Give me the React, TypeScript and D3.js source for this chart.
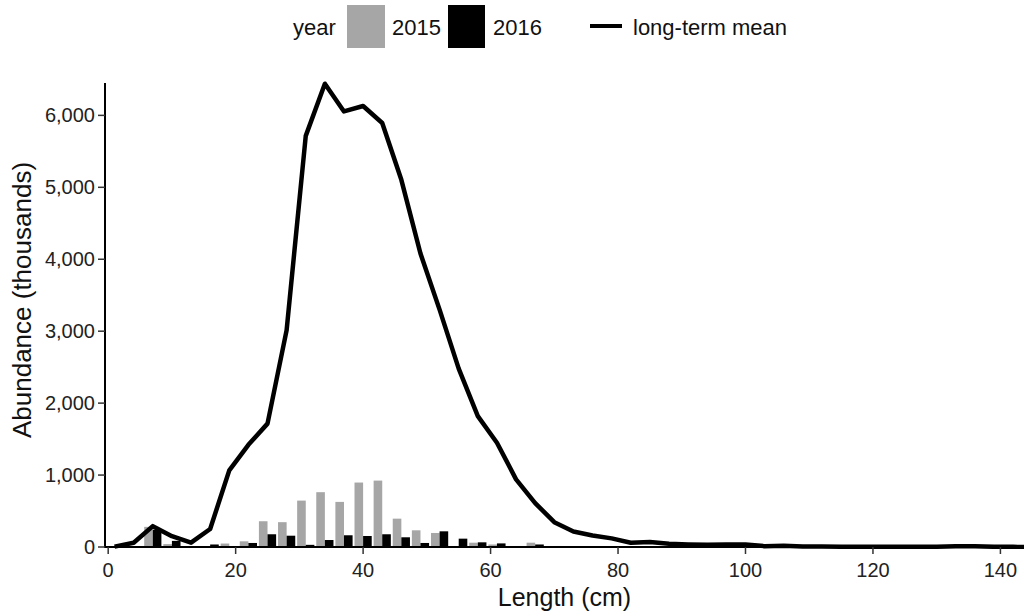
import * as d3 from "d3";

// bin centres (cm), 3 cm bins
const lengths = [1, 4, 7, 10, 13, 16, 19, 22, 25, 28, 31, 34, 37, 40, 43, 46, 49, 52, 55, 58, 61, 64, 67, 70];
const abund2015 = [0, 5, 280, 40, 0, 0, 48, 79, 358, 345, 645, 762, 627, 896, 923, 394, 232, 195, 5, 60, 35, 5, 60, 5];
const abund2016 = [0, 0, 240, 85, 0, 35, 10, 56, 177, 157, 30, 97, 163, 153, 177, 135, 56, 218, 116, 65, 50, 14, 35, 14];

const meanLengths = [
  1, 4, 7, 10, 13, 16, 19, 22, 25, 28, 31, 34, 37, 40, 43, 46, 49, 52, 55, 58, 61, 64, 67, 70,
  73, 76, 79, 82, 85, 88, 91, 94, 97, 100, 103, 106, 109, 112, 115, 118, 121, 124, 127, 130,
  133, 136, 139, 142, 145,
];
const meanAbund = [
  5, 60, 290, 150, 60, 250, 1065, 1420, 1715, 3015, 5715, 6440, 6055, 6130, 5894, 5104, 4080, 3300, 2480, 1820, 1450, 940, 610, 345,
  215, 160, 120, 60, 70, 45, 35, 30, 35, 35, 12, 18, 8, 6, 4, 4, 3, 3, 2, 4,
  12, 12, 3, 2, 0,
];

const xTicks = [0, 20, 40, 60, 80, 100, 120, 140];
const yTicks = [0, 1000, 2000, 3000, 4000, 5000, 6000];

const width = 1024;
const height = 616;
const left = 105;
const right = 1024;
const top = 83;
const bottom = 547;
const font = "'Liberation Sans', Arial, sans-serif";
const grey = "#a6a6a6";

export default function App() {
  const x = d3.scaleLinear().domain([-0.5, 143.7]).range([left, right]);
  const y = d3.scaleLinear().domain([0, 6450]).range([bottom, top]);
  const barW = 1.35; // half of 0.9 * bin width

  const line = d3
    .line<number>()
    .x((_, i) => x(meanLengths[i]))
    .y((d) => y(d));

  const fmt = d3.format(",");

  return (
    <svg
      width={width}
      height={height}
      style={{ position: "absolute", left: 0, top: 0, background: "#fff" }}
      fontFamily={font}
    >
      <defs>
        <clipPath id="panel">
          <rect x={left} y={0} width={right - left} height={bottom + 2} />
        </clipPath>
      </defs>

      {/* legend */}
      <g fontSize={22} fill="#111">
        <text x={293} y={35}>year</text>
        <rect x={347} y={5} width={38} height={43} fill={grey} />
        <text x={392} y={35}>2015</text>
        <rect x={448} y={5} width={37} height={43} fill="#000" />
        <text x={493} y={35}>2016</text>
        <line x1={590} x2={622} y1={26} y2={26} stroke="#000" strokeWidth={4} />
        <text x={633} y={35}>long-term mean</text>
      </g>

      {/* bars */}
      <g>
        {lengths.map((l, i) => (
          <g key={l}>
            <rect
              x={x(l - barW)}
              y={y(abund2015[i])}
              width={x(l) - x(l - barW)}
              height={bottom - y(abund2015[i])}
              fill={grey}
            />
            <rect
              x={x(l)}
              y={y(abund2016[i])}
              width={x(l + barW) - x(l)}
              height={bottom - y(abund2016[i])}
              fill="#000"
            />
          </g>
        ))}
      </g>

      {/* long-term mean */}
      <path
        d={line(meanAbund) || ""}
        fill="none"
        stroke="#000"
        strokeWidth={4.5}
        strokeLinejoin="round"
        clipPath="url(#panel)"
      />

      {/* axes */}
      <line x1={left} x2={left} y1={top} y2={bottom + 1} stroke="#000" strokeWidth={2} />
      <line x1={left - 1} x2={right} y1={bottom} y2={bottom} stroke="#000" strokeWidth={2} />
      <g fontSize={20} fill="#222">
        {yTicks.map((t) => (
          <g key={t}>
            <line x1={left - 7} x2={left} y1={y(t)} y2={y(t)} stroke="#333" strokeWidth={1.5} />
            <text x={left - 10} y={y(t)} dy="0.35em" textAnchor="end">
              {fmt(t)}
            </text>
          </g>
        ))}
        {xTicks.map((t) => (
          <g key={t}>
            <line x1={x(t)} x2={x(t)} y1={bottom} y2={bottom + 7} stroke="#333" strokeWidth={1.5} />
            <text x={x(t)} y={bottom + 30} textAnchor="middle">
              {t}
            </text>
          </g>
        ))}
      </g>

      <text x={(left + right) / 2} y={606} fontSize={25} textAnchor="middle" fill="#111">
        Length (cm)
      </text>
      <text
        transform={`translate(31,300) rotate(-90)`}
        fontSize={26}
        textAnchor="middle"
        fill="#111"
      >
        Abundance (thousands)
      </text>
    </svg>
  );
}
